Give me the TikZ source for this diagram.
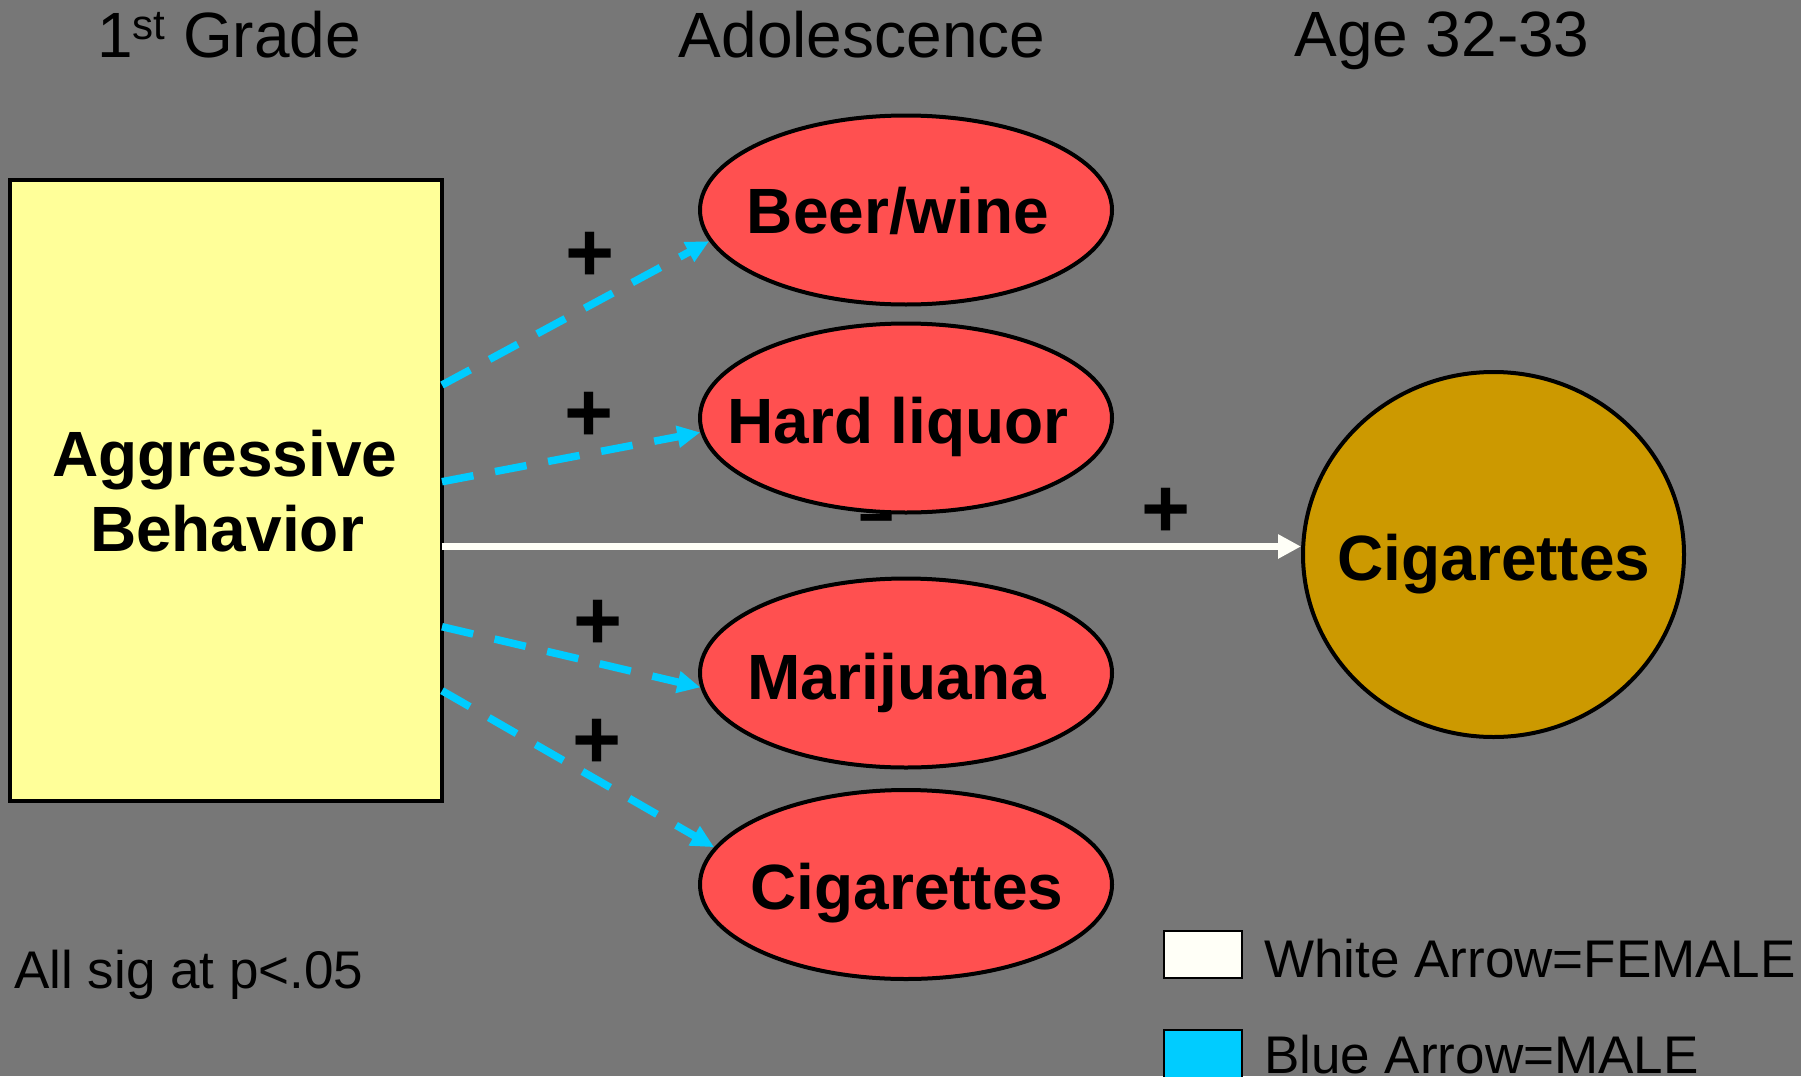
\documentclass[tikz,border=0pt]{standalone}
\usepackage{fontspec}
\setmainfont{Liberation Sans}
\usetikzlibrary{shapes.geometric,arrows.meta}
\definecolor{bg}{RGB}{119,119,119}
\definecolor{boxyellow}{RGB}{255,255,153}
\definecolor{ellred}{RGB}{255,80,80}
\definecolor{gold}{RGB}{204,153,0}
\definecolor{mblue}{RGB}{0,204,255}
\definecolor{fwhite}{RGB}{255,255,247}
\tikzset{
  title/.style={inner sep=0pt, anchor=base, font=\fontsize{64}{76}\selectfont},
  lbl/.style={inner sep=0pt, anchor=base, font=\fontsize{64}{76}\selectfont\bfseries},
  note/.style={inner sep=0pt, anchor=base west, font=\fontsize{53}{64}\selectfont},
  sign/.style={inner sep=0pt, anchor=center, font=\fontsize{84}{90}\selectfont\bfseries},
  oval/.style={ellipse, draw=black, line width=4pt, fill=ellred, minimum width=412pt, minimum height=189pt, inner sep=0pt},
  malearrow/.style={draw=mblue, line width=7.5pt, dash pattern=on 32pt off 22pt, -{Triangle[length=23pt,width=21pt]}},
  femalearrow/.style={draw=fwhite, line width=7pt, -{Triangle[length=23pt,width=23pt]}},
  legbox/.style={draw=black, line width=2pt, minimum width=78pt, minimum height=47pt, inner sep=0pt}
}
\begin{document}
\begin{tikzpicture}[x=1pt,y=-1pt]
\useasboundingbox (0,0) rectangle (1801,1076);
\clip (0,0) rectangle (1801,1076);
\fill[bg] (0,0) rectangle (1801,1076);

% titles
\node[title] (t1) at (229,57) {1\raisebox{18pt}{\fontsize{42}{48}\selectfont st} Grade};
\node[title] (t2) at (862,57) {Adolescence};
\node[title] (t3) at (1442,56) {Age 32-33};

% minus sign (partly behind Hard liquor)
\node[inner sep=0pt, anchor=base, font=\fontsize{62}{66}\selectfont\bfseries] (minus) at (876.5,538) {\char"2212};

% box
\node[draw=black, line width=4pt, fill=boxyellow, minimum width=432pt, minimum height=621pt, inner sep=0pt] (agg) at (226,490.5) {};
\node[lbl] (agg1) at (225,476) {Aggressive};
\node[lbl] (agg2) at (227,551.7) {Behavior};

% ellipses
\node[oval] (beer) at (906,210) {};
\node[oval] (hard) at (906,418) {};
\node[oval] (mari) at (906,673) {};
\node[oval] (cig) at (906,884.5) {};
\node[lbl] (beerL) at (898,233) {Beer/wine};
\node[lbl] (hardL) at (898,443) {Hard liquor};
\node[lbl] (mariL) at (897,699) {Marijuana};
\node[lbl] (cigL) at (907,909) {Cigarettes};

% big circle
\node[ellipse, draw=black, line width=4pt, fill=gold, minimum width=381pt, minimum height=365pt, inner sep=0pt] (bigcig) at (1493.5,554.5) {};
\node[lbl] (bigcigL) at (1494,580) {Cigarettes};

% connector start points on the box
\coordinate (s1) at (442,385);
\coordinate (s2) at (442,481.7);
\coordinate (s3) at (442,626.7);
\coordinate (s4) at (442,690.7);
\coordinate (s0) at (442,546.5);

\draw[malearrow] (s1) -- (beer.189.6);
\draw[malearrow] (s2) -- (hard.184.5);
\draw[malearrow] (s3) -- (mari.184.7);
\draw[malearrow] (s4) -- (cig.169.6);
\draw[femalearrow] (s0) -- (s0 -| bigcig.west);

% plus signs
\node[sign] (p1) at (590,257.3) {+};
\node[sign] (p2) at (589.3,417.3) {+};
\node[sign] (p3) at (598.3,625.3) {+};
\node[sign] (p4) at (596.7,744) {+};
\node[sign] (p5) at (1166,513.3) {+};

% note
\node[note] (sig) at (14,988) {All sig at p<.05};

% legend
\node[legbox, fill=fwhite] (lw) at (1203,954.5) {};
\node[legbox, fill=mblue, minimum height=60pt] (lb) at (1203,1060) {};
\node[note] (lwt) at (1264,977) {White Arrow=FEMALE};
\node[note] (lbt) at (1264,1073) {Blue Arrow=MALE};
\end{tikzpicture}
\end{document}
